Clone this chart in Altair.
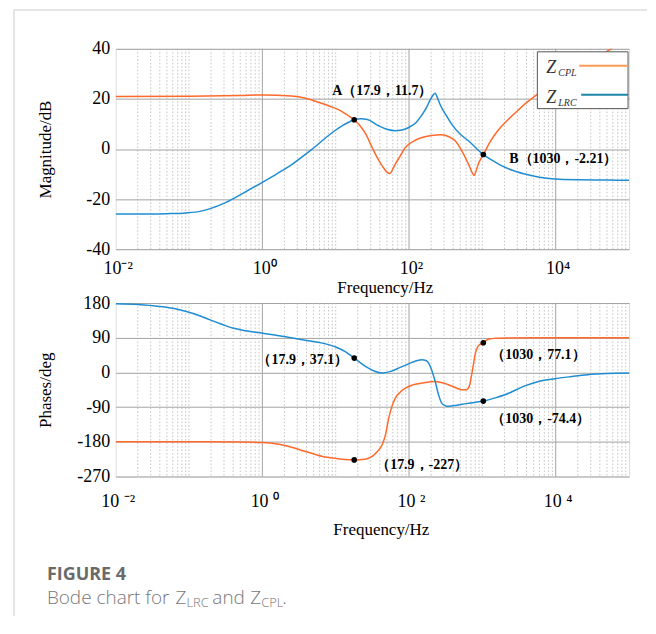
import altair as alt
import pandas as pd

# ---------------- data ----------------
freq_ticks = [0.01, 1, 100, 10000]
mag_ticks = [-40, -20, 0, 20, 40]
phase_ticks = [-270, -180, -90, 0, 90, 180]
series_names = ["Z_CPL", "Z_LRC"]
series_colors = ["#FF6A2B", "#1F8DD2"]

mag_cpl_f = [0.01, 0.1, 0.5, 1, 2.5, 4, 5.9, 8.5, 11.1, 14, 17.9, 22, 25, 31.4, 37, 43, 50, 55, 60,
             65, 75, 89, 110, 150, 200, 279, 350, 425, 520, 645, 720, 770, 820, 880, 950, 1030, 1250,
             1640, 2200, 3070, 4200, 5730, 10000, 20000, 56600, 100000]
mag_cpl_v = [21.0, 21.1, 21.4, 21.6, 21.2, 20.2, 18.6, 17.0, 15.6, 13.8, 11.7, 8.9, 6.6, 0.6, -3.5,
             -6.7, -9.2, -9.8, -8.0, -6.0, -3.0, 0.6, 2.8, 4.6, 5.4, 5.7, 4.9, 3.3, -0.5, -6.0, -9.2,
             -10.6, -8.8, -6.0, -4.0, -2.21, 2.5, 7.5, 11.5, 15.5, 19.0, 22.0, 27.0, 32.0, 40.0, 45.0]

mag_lrc_f = [0.01, 0.03, 0.05, 0.092, 0.14, 0.19, 0.32, 0.55, 1, 1.6, 2.57, 4.8, 9, 13, 17.9, 22, 27,
             38.6, 50, 65, 80, 99, 125, 150, 175, 194, 212, 227, 245, 266, 320, 381, 500, 645, 1030,
             1500, 2030, 3790, 6000, 9660, 20000, 50000, 100000]
mag_lrc_v = [-25.9, -25.9, -25.8, -25.5, -24.9, -23.9, -21.3, -17.6, -13.3, -9.8, -6.0, 0.0, 6.6, 9.7,
             11.7, 12.1, 11.8, 9.3, 7.9, 7.3, 7.6, 8.6, 10.6, 13.6, 16.8, 19.6, 21.5, 22.3, 20.3, 17.7,
             13.5, 9.96, 5.9, 3.3, -2.21, -5.2, -7.3, -10.0, -11.3, -12.0, -12.3, -12.4, -12.5]

ph_cpl_f = [0.01, 0.1, 0.5, 1, 1.6, 2.57, 4, 6.6, 10, 13.5, 17.9, 25, 31.4, 37, 43, 48, 52.9, 58, 65,
            75, 89, 110, 150, 227, 345, 450, 522, 600, 645, 680, 715, 755, 795, 850, 920, 977, 1030,
            1200, 1500, 2000, 5000, 100000]
ph_cpl_v = [-180, -180, -180.5, -182, -186, -195, -206, -218, -223, -226, -227, -225.5, -218, -205,
            -187.6, -160, -118.5, -90, -66.6, -52, -40.7, -33, -27.7, -23.3, -32, -41, -45, -45,
            -40.7, -28, -6, 20, 46, 64, 72, 75, 77.1, 86, 88.5, 89.5, 90, 90]

ph_lrc_f = [0.01, 0.02, 0.04, 0.065, 0.092, 0.14, 0.19, 0.28, 0.395, 0.6, 1, 1.6, 2.57, 4, 6.6, 10,
            13.5, 17.9, 25.5, 34, 43, 55, 72, 90, 110, 130, 150, 170, 185, 200, 215, 227, 250, 279,
            310, 345, 450, 600, 1030, 1500, 2030, 3790, 6000, 9660, 16000, 27300, 50000, 100000]
ph_lrc_v = [178, 176, 171, 165, 158, 147, 137, 125, 115, 108, 102, 96, 89, 83, 76, 66, 54, 37.1, 15.6,
            3, -1.7, 2, 11, 19, 26, 31, 33, 31, 24, 10, -8, -23, -55, -79.6, -86, -88, -85, -81,
            -74.4, -66, -58, -35, -23, -16.4, -11, -6, -3, -1.7]

mag_pt_f = [17.9, 1030]
mag_pt_v = [11.7, -2.21]
mag_pt_text = ["A（17.9，11.7）", "B（1030，-2.21）"]

ph_pt_f = [17.9, 17.9, 1030, 1030]
ph_pt_v = [37.1, -227, 77.1, -74.4]
ph_pt_text = ["（17.9，37.1）", "（17.9，-227）", "（1030，77.1）", "（1030，-74.4）"]

# ---------------- styles ----------------
SERIF = "Liberation Serif"
SANS = "Open Sans"
W, H1, H2 = 515, 201, 174

mag_offsets = [dict(align="left", dx=-22, dy=-29), dict(align="left", dx=26, dy=4)]
ph_offsets = [dict(align="right", dx=-6, dy=2), dict(align="left", dx=22, dy=5),
              dict(align="left", dx=8, dy=12), dict(align="left", dx=8, dy=18)]


def long_df(fa, va, fb, vb):
    return pd.concat([
        pd.DataFrame({"f": fa, "v": va, "s": series_names[0]}),
        pd.DataFrame({"f": fb, "v": vb, "s": series_names[1]}),
    ], ignore_index=True)


mag_df = long_df(mag_cpl_f, mag_cpl_v, mag_lrc_f, mag_lrc_v)
ph_df = long_df(ph_cpl_f, ph_cpl_v, ph_lrc_f, ph_lrc_v)

xscale = alt.Scale(type="log", domain=[0.01, 100000], nice=False)
cscale = alt.Scale(domain=series_names, range=series_colors)

minor_f = [m * 10 ** k for k in range(-2, 5) for m in range(1, 10)
           if not (m == 1 and k % 2 == 0)]
major_f = [1, 100, 10000]

top_labels = ("datum.value < 0.1 ? '10⁻²' : datum.value < 10 ? '10⁰' : "
              "datum.value < 1000 ? '10²' : '10⁴'")
bot_labels = ("datum.value < 0.1 ? '10 ⁻²' : datum.value < 10 ? '10 ⁰' : "
              "datum.value < 1000 ? '10 ²' : '10 ⁴'")


def xaxis(expr, pad, title_y, title_x):
    return alt.Axis(values=freq_ticks, labelExpr=expr, labelFont=SERIF, labelFontSize=18,
                    labelColor="black", labelBaseline="alphabetic", labelPadding=pad,
                    labelFlush=False, labelOffset=2, labelOverlap=False, domain=False,
                    ticks=False, tickSize=0, grid=False, title="Frequency/Hz", titleFont=SERIF,
                    titleFontSize=17, titleFontWeight="normal", titleColor="black",
                    titleX=title_x, titleY=title_y, titleBaseline="alphabetic",
                    titleAlign="center")


def yaxis(vals, title, h):
    return alt.Axis(values=vals, labelExpr="'' + datum.value", labelFont=SERIF, labelFontSize=18,
                    labelColor="black", labelPadding=6, labelOverlap=False, labelFlush=False,
                    domain=False, ticks=False, tickSize=0, grid=True, gridColor="#a3a3a3",
                    gridWidth=1, title=title, titleFont=SERIF, titleFontSize=17,
                    titleFontWeight="normal", titleColor="black", titleX=-70, titleY=h / 2,
                    titleAngle=270, titleBaseline="middle", titleAlign="center")


def grid_layers(xa):
    minor = alt.Chart(pd.DataFrame({"f": minor_f})).mark_rule(
        color="#b4b4b4", strokeWidth=0.8, strokeDash=[1.5, 2]).encode(
        x=alt.X("f:Q", scale=xscale, axis=xa))
    major = alt.Chart(pd.DataFrame({"f": major_f})).mark_rule(
        color="#a3a3a3", strokeWidth=1).encode(x=alt.X("f:Q", scale=xscale, axis=xa))
    return [minor, major]


def curve(df, xa, ya, ydom):
    return alt.Chart(df).mark_line(strokeWidth=1.5, clip=True, interpolate="monotone").encode(
        x=alt.X("f:Q", scale=xscale, axis=xa),
        y=alt.Y("v:Q", scale=alt.Scale(domain=ydom, nice=False), axis=ya),
        color=alt.Color("s:N", scale=cscale, legend=None),
        detail="s:N",
    )


def points_and_text(fs, vs, texts, offsets, xa, ya, ydom):
    layers = []
    df = pd.DataFrame({"f": fs, "v": vs, "t": texts})
    xenc = alt.X("f:Q", scale=xscale, axis=xa)
    yenc = alt.Y("v:Q", scale=alt.Scale(domain=ydom, nice=False), axis=ya)
    layers.append(alt.Chart(df).mark_circle(size=32, color="black", opacity=1).encode(
        x=xenc, y=yenc))
    for i, off in enumerate(offsets):
        layers.append(alt.Chart(df.iloc[[i]]).mark_text(
            font=SERIF, fontSize=14, fontWeight="bold", color="black", baseline="middle",
            **off).encode(x=xenc, y=yenc, text="t:N"))
    return layers


one = pd.DataFrame({"k": [0]})


def vtext(txt, x, y, **kw):
    return alt.Chart(one).mark_text(text=txt, align="left", baseline="alphabetic", **kw).encode(
        x=alt.value(x), y=alt.value(y))


def vrule(x, x2, y, y2, color, width):
    return alt.Chart(one).mark_rule(color=color, strokeWidth=width).encode(
        x=alt.value(x), x2=alt.value(x2), y=alt.value(y), y2=alt.value(y2))


# legend (drawn inside the top panel)
legend_layers = [
    alt.Chart(one).mark_rect(fill="white", stroke="#555555", strokeWidth=1).encode(
        x=alt.value(423), x2=alt.value(514), y=alt.value(3), y2=alt.value(60)),
    vtext("Z", 432, 24, font=SERIF, fontSize=18, fontStyle="italic", color="#333333"),
    vtext("CPL", 444, 27, font=SERIF, fontSize=10, fontStyle="italic", color="#333333"),
    vrule(465, 514, 17, 17, "#FF9A55", 2),
    vtext("Z", 432, 54, font=SERIF, fontSize=18, fontStyle="italic", color="#333333"),
    vtext("LRC", 444, 57, font=SERIF, fontSize=10, fontStyle="italic", color="#333333"),
    vrule(467, 514, 46, 46, "#1B86A8", 2),
]

# outer figure border (left and top edges)
border_layers = [
    vrule(-102, 533, -39, -39, "#cccccc", 1),
    vrule(-102, -102, -39, 569, "#cccccc", 1),
]

xa_top = xaxis(top_labels, 24, 43, 270)
ya_top = yaxis(mag_ticks, "Magnitude/dB", H1)
top = alt.layer(
    *grid_layers(xa_top),
    curve(mag_df, xa_top, ya_top, [-40, 40]),
    *points_and_text(mag_pt_f, mag_pt_v, mag_pt_text, mag_offsets, xa_top, ya_top, [-40, 40]),
    *legend_layers,
    *border_layers,
).properties(width=W, height=H1)

CAP = dict(font=SANS, fontSize=19, fontWeight=300, color="#777777")
SUB = dict(font=SANS, fontSize=13, fontWeight=300, color="#777777")
caption_layers = [
    vtext("FIGURE 4", -69, 278, font=SANS, fontSize=18, fontWeight="bold", color="#6a6a6a"),
    vtext("Bode chart for", -69, 302, **CAP),
    vtext("Z", 60, 302, **CAP),
    vtext("LRC", 71, 305, **SUB),
    vtext("and", 97, 302, **CAP),
    vtext("Z", 135, 302, **CAP),
    vtext("CPL", 146, 305, **SUB),
    vtext(".", 167, 302, **CAP),
]

xa_bot = xaxis(bot_labels, 30, 58, 266)
ya_bot = yaxis(phase_ticks, "Phases/deg", H2)
bottom = alt.layer(
    *grid_layers(xa_bot),
    curve(ph_df, xa_bot, ya_bot, [-270, 180]),
    *points_and_text(ph_pt_f, ph_pt_v, ph_pt_text, ph_offsets, xa_bot, ya_bot, [-270, 180]),
    *caption_layers,
).properties(width=W, height=H2)

chart = alt.vconcat(top, bottom, spacing=54, bounds="flush").properties(
    padding={"left": 5, "top": 0, "right": 0, "bottom": 0}
).configure_view(stroke="#707070", strokeWidth=1.5).configure(background="white")

chart.save("out.html", embed_options={"renderer": "svg", "actions": False})
